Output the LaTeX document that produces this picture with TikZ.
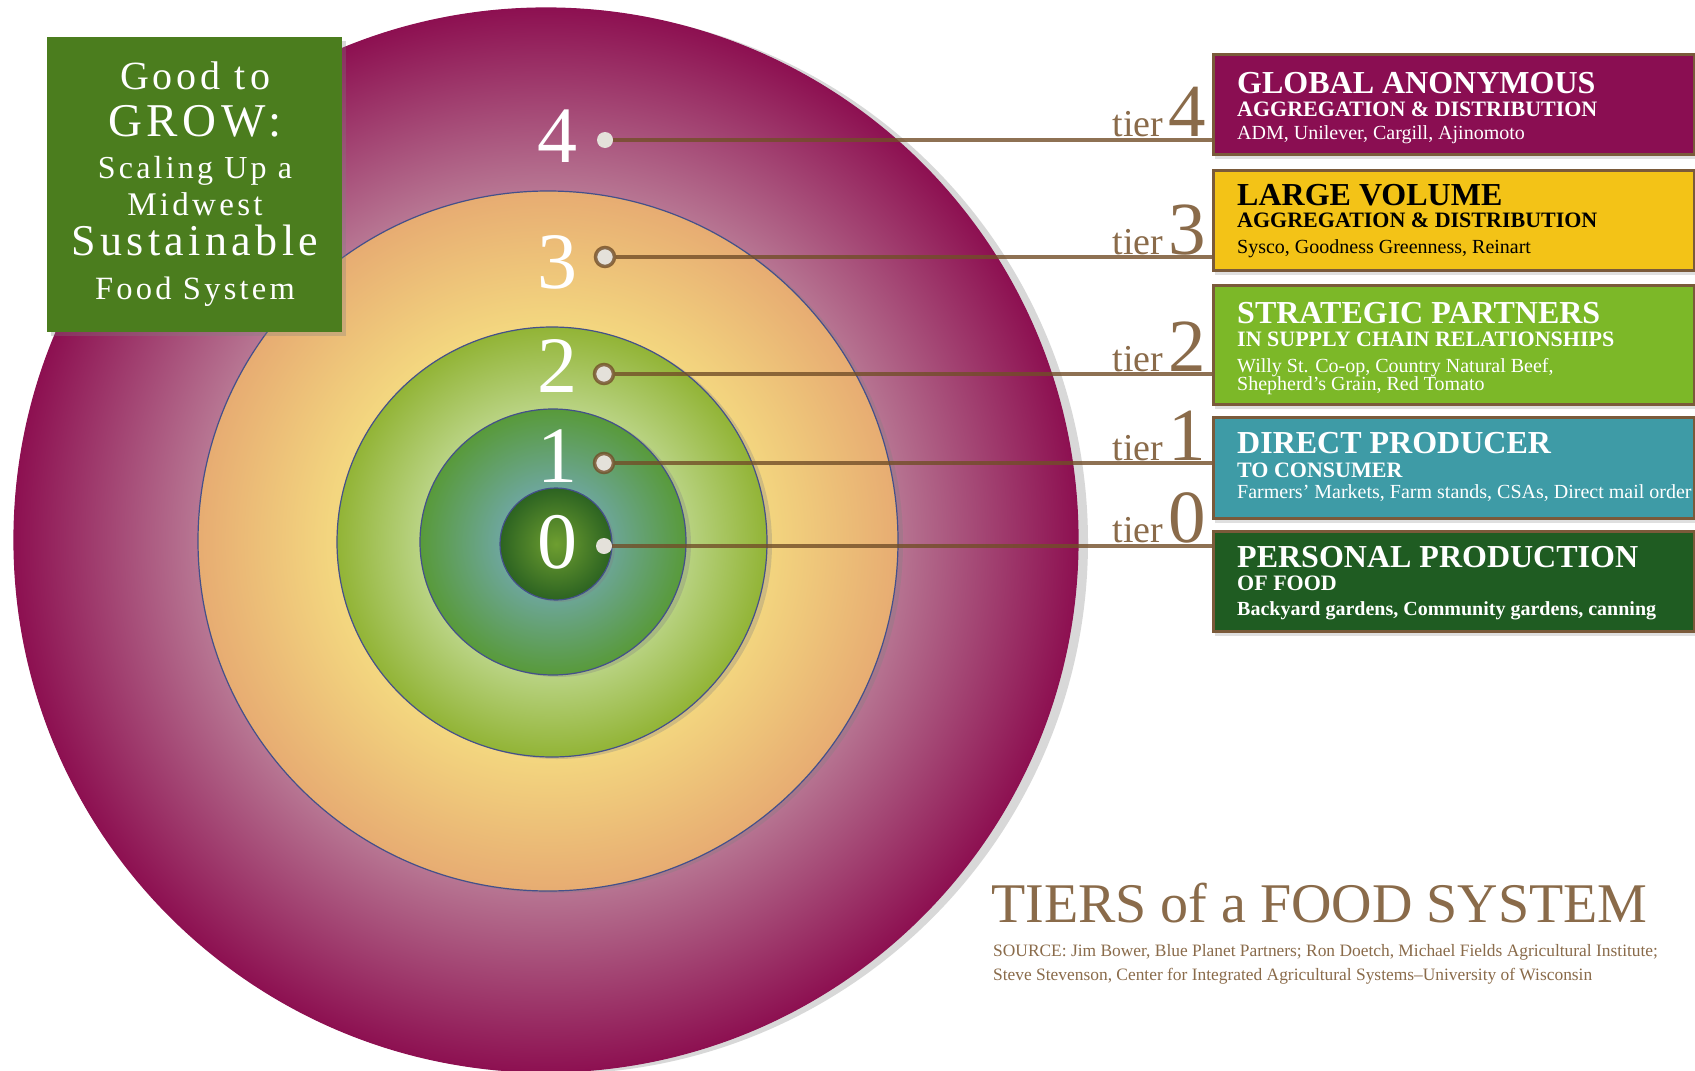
\documentclass[tikz,border=0pt]{standalone}
\usepackage{fontspec}
\setmainfont{Liberation Serif}
\newfontfamily\growfont[LetterSpace=10]{Liberation Serif}
\usetikzlibrary{positioning,shadows}

\definecolor{tierbrown}{HTML}{8A6B4A}
\definecolor{linebrown}{HTML}{724E28}
\definecolor{ringedge}{HTML}{44508A}
\definecolor{dotfill}{HTML}{E4E1DA}
\definecolor{growgreen}{HTML}{4B7D1E}
\definecolor{boxedge}{HTML}{7A5A3A}
\definecolor{globalc}{HTML}{8A0E52}
\definecolor{largec}{HTML}{F3C317}
\definecolor{strategc}{HTML}{7CB828}
\definecolor{directc}{HTML}{3E9BA6}
\definecolor{personalc}{HTML}{1F5C22}
\definecolor{fourin}{HTML}{B77592}
\definecolor{fourout}{HTML}{8D1051}
\definecolor{threein}{HTML}{F3D67F}
\definecolor{threeout}{HTML}{E7AC72}
\definecolor{twoin}{HTML}{B9D383}
\definecolor{twoout}{HTML}{92B436}
\definecolor{onein}{HTML}{6DA699}
\definecolor{oneout}{HTML}{589A3A}
\definecolor{zeroin}{HTML}{6E9E30}
\definecolor{zeroout}{HTML}{2C6321}

% 25bp is the rim of the circle
\pgfdeclareradialshading{ringfour}{\pgfpoint{0bp}{0bp}}{color(0bp)=(fourin); color(16.5bp)=(fourin); color(25bp)=(fourout); color(50bp)=(fourout)}
\pgfdeclareradialshading{ringthree}{\pgfpoint{0bp}{0bp}}{color(0bp)=(threein); color(15.5bp)=(threein); color(25bp)=(threeout); color(50bp)=(threeout)}
\pgfdeclareradialshading{ringtwo}{\pgfpoint{0bp}{0bp}}{color(0bp)=(twoin); color(15.5bp)=(twoin); color(25bp)=(twoout); color(50bp)=(twoout)}
\pgfdeclareradialshading{ringone}{\pgfpoint{0bp}{0bp}}{color(0bp)=(onein); color(10.5bp)=(onein); color(25bp)=(oneout); color(50bp)=(oneout)}
\pgfdeclareradialshading{ringzero}{\pgfpoint{0bp}{0bp}}{color(0bp)=(zeroin); color(25bp)=(zeroout); color(50bp)=(zeroout)}

\begin{document}
\begin{tikzpicture}[x=1pt, y=-1pt,
  ring/.style={shade, draw=ringedge, line width=1.2pt,
               drop shadow={opacity=0.3, shadow xshift=#1, shadow yshift=-2pt}},
  ring/.default=5pt,
  numlbl/.style={anchor=base, inner sep=0pt, text=white, font=\fontsize{80}{80}\selectfont},
  ringdot/.style={circle, inner sep=0pt, minimum size=19pt, fill=dotfill,
                  draw=linebrown, draw opacity=0.8, line width=3.5pt},
  plaindot/.style={circle, inner sep=0pt, minimum size=16pt, fill=dotfill},
  tierbox/.style={anchor=north west, inner sep=0pt, minimum width=481pt,
                  draw=boxedge, line width=2.5pt,
                  drop shadow={opacity=0.25, shadow xshift=2pt, shadow yshift=-5pt}},
  boxttl/.style={anchor=base west, inner sep=0pt, font=\bfseries\fontsize{32}{32}\selectfont},
  boxsub/.style={anchor=base west, inner sep=0pt, font=\bfseries\fontsize{22}{22}\selectfont},
  boxitm/.style={anchor=base west, inner sep=0pt, font=\fontsize{20}{20}\selectfont},
  tierlbl/.style={anchor=base east, inner sep=0pt, text=tierbrown, font=\fontsize{75}{75}\selectfont},
  tierln/.style={draw=linebrown, draw opacity=0.8, line width=4pt},
  growtxt/.style={anchor=base, inner sep=0pt, text=white}]

\useasboundingbox (0,0) rectangle (1695,1071);
\fill[white] (0,0) rectangle (1695,1071);

% tiers as rings
\path[ring=10pt, shading=ringfour, draw=fourout] (546,540) circle[radius=532];
\path[ring, shading=ringthree] (548,541) circle[radius=350];
\path[ring, shading=ringtwo] (552,542) circle[radius=215];
\path[ring, shading=ringone] (553,542) circle[radius=133];
\path[ring=3pt, shading=ringzero] (556,544) circle[radius=56];

\node[numlbl] (n4) at (557,162) {4};
\node[numlbl] (n3) at (557,288) {3};
\node[numlbl] (n2) at (557,392) {2};
\node[numlbl] (n1) at (557,482) {1};
\node[numlbl] (n0) at (557,568) {0};

% title box
\node[anchor=north west, minimum width=295pt, minimum height=295pt, fill=growgreen,
      drop shadow={opacity=0.3, shadow xshift=4pt, shadow yshift=-4pt}] (grow) at (47,37) {};
\node[growtxt, font=\growfont\fontsize{40}{40}\selectfont] (g1) at (195,89) {Good to};
\node[growtxt, font=\growfont\fontsize{47}{47}\selectfont] (g2) at (195,136) {GROW:};
\node[growtxt, font=\growfont\fontsize{32}{32}\selectfont] (g3) at (195,178) {Scaling Up a};
\node[growtxt, font=\growfont\fontsize{33}{33}\selectfont] (g4) at (195,215) {Midwest};
\node[growtxt, font=\growfont\fontsize{44}{44}\selectfont] (g5) at (195,255) {Sustainable};
\node[growtxt, font=\growfont\fontsize{32.5}{32.5}\selectfont] (g6) at (195,299) {Food System};

% tier boxes
\node[tierbox, fill=globalc, minimum height=100pt] (b4) at (1212,53) {};
\node[boxttl, text=white] (t4) at ([shift={(25,40)}]b4.north west) {GLOBAL ANONYMOUS};
\node[boxsub, text=white] (s4) at ([shift={(25,63)}]b4.north west) {AGGREGATION \& DISTRIBUTION};
\node[boxitm, text=white] (i4) at ([shift={(25,86)}]b4.north west) {ADM, Unilever, Cargill, Ajinomoto};

\node[tierbox, fill=largec, minimum height=100pt] (b3) at (1212,169) {};
\node[boxttl, text=black] (t3) at ([shift={(25,36)}]b3.north west) {LARGE VOLUME};
\node[boxsub, text=black] (s3) at ([shift={(25,58)}]b3.north west) {AGGREGATION \& DISTRIBUTION};
\node[boxitm, text=black] (i3) at ([shift={(25,84)}]b3.north west) {Sysco, Goodness Greenness, Reinart};

\node[tierbox, fill=strategc, minimum height=119pt] (b2) at (1212,284) {};
\node[boxttl, text=white] (t2) at ([shift={(25,39)}]b2.north west) {STRATEGIC PARTNERS};
\node[boxsub, text=white] (s2) at ([shift={(25,62)}]b2.north west) {IN SUPPLY CHAIN RELATIONSHIPS};
\node[boxitm, text=white] (i2) at ([shift={(25,88)}]b2.north west) {Willy St. Co-op, Country Natural Beef,};
\node[boxitm, text=white] (j2) at ([shift={(25,106)}]b2.north west) {Shepherd’s Grain, Red Tomato};

\node[tierbox, fill=directc, minimum height=101pt] (b1) at (1212,416) {};
\node[boxttl, text=white] (t1) at ([shift={(25,37)}]b1.north west) {DIRECT PRODUCER};
\node[boxsub, text=white] (s1) at ([shift={(25,61)}]b1.north west) {TO CONSUMER};
\node[boxitm, text=white] (i1) at ([shift={(25,82)}]b1.north west) {Farmers’ Markets, Farm stands, CSAs, Direct mail order};

\node[tierbox, fill=personalc, minimum height=100pt] (b0) at (1212,530) {};
\node[boxttl, text=white] (t0) at ([shift={(25,37)}]b0.north west) {PERSONAL PRODUCTION};
\node[boxsub, text=white] (s0) at ([shift={(25,60)}]b0.north west) {OF FOOD};
\node[boxitm, text=white, font=\bfseries\fontsize{20}{20}\selectfont] (i0) at ([shift={(25,85)}]b0.north west) {Backyard gardens, Community gardens, canning};

% dots and leaders
\node[plaindot] (d4) at (605,140) {};
\node[ringdot] (d3) at (605,257) {};
\node[ringdot] (d2) at (604,374) {};
\node[ringdot] (d1) at (604,463) {};
\node[plaindot] (d0) at (604,546) {};

\draw[tierln] (d4.east) -- (d4 -| b4.west);
\draw[tierln] (d3.east) -- (d3 -| b3.west);
\draw[tierln] (d2.east) -- (d2 -| b2.west);
\draw[tierln] (d1.east) -- (d1 -| b1.west);
\draw[tierln] (d0.east) -- (d0 -| b0.west);

\node[tierlbl] (l4) at (1206,136) {{\fontsize{38}{38}\selectfont tier}\hspace{5pt}4};
\node[tierlbl] (l3) at (1206,254) {{\fontsize{38}{38}\selectfont tier}\hspace{5pt}3};
\node[tierlbl] (l2) at (1206,371) {{\fontsize{38}{38}\selectfont tier}\hspace{5pt}2};
\node[tierlbl] (l1) at (1206,460) {{\fontsize{38}{38}\selectfont tier}\hspace{5pt}1};
\node[tierlbl] (l0) at (1206,542) {{\fontsize{38}{38}\selectfont tier}\hspace{5pt}0};

% heading
\node[anchor=base west, inner sep=0pt, text=tierbrown, font=\fontsize{56}{56}\selectfont] (head) at (991,922) {TIERS of a FOOD SYSTEM};
\node[anchor=base west, inner sep=0pt, text=tierbrown, font=\fontsize{17.4}{17.4}\selectfont] (src1) at (993,956) {SOURCE: Jim Bower, Blue Planet Partners; Ron Doetch, Michael Fields Agricultural Institute;};
\node[anchor=base west, inner sep=0pt, text=tierbrown, font=\fontsize{17.4}{17.4}\selectfont] (src2) at (993,980) {Steve Stevenson, Center for Integrated Agricultural Systems–University of Wisconsin};

\end{tikzpicture}
\end{document}
